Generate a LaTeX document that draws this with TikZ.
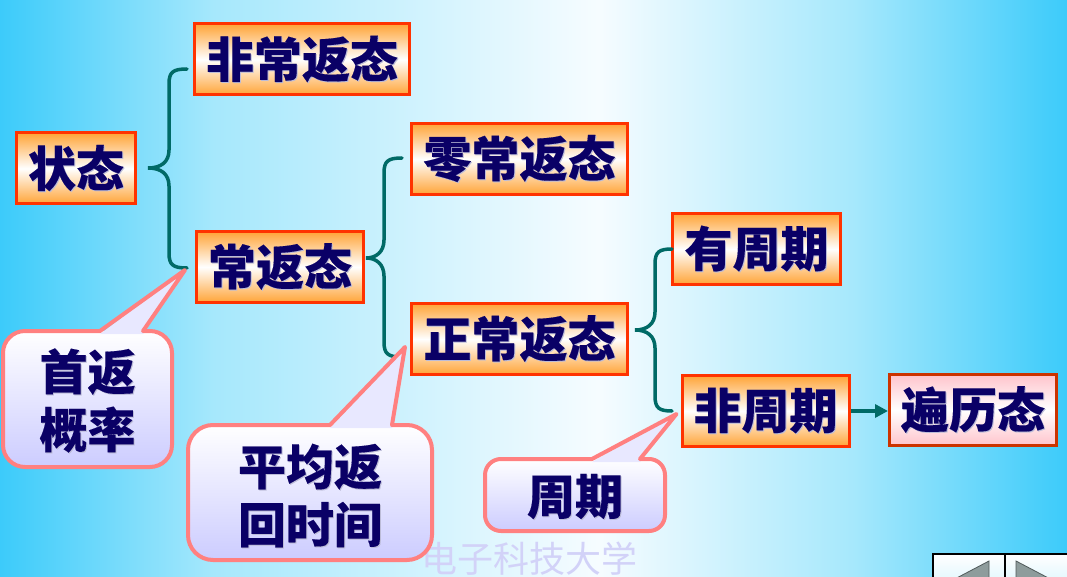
\documentclass[tikz,border=0pt]{standalone}
\usepackage{fontspec}
\newfontfamily\cjk{Noto Sans CJK SC}[BoldFeatures={FakeBold=0.25}]
\usetikzlibrary{arrows.meta,calc}

\definecolor{bgcyan}{HTML}{3CCBFA}
\definecolor{bgmid}{HTML}{A6E8FC}
\definecolor{bglight}{HTML}{F6FCFF}
\definecolor{boxedge}{HTML}{FF3300}
\definecolor{boxorange}{HTML}{FFA437}
\definecolor{ergedge}{HTML}{CC3300}
\definecolor{ergpink}{HTML}{FFC4CC}
\definecolor{bracec}{HTML}{006A66}
\definecolor{inkc}{HTML}{0A0066}
\definecolor{shadowc}{HTML}{BCBCD8}
\definecolor{calloutedge}{HTML}{FF8080}
\definecolor{calloutlav}{HTML}{CCCCFF}
\definecolor{markc}{HTML}{D2D2F8}
\definecolor{navgray}{HTML}{8E9C9C}
\definecolor{navdark}{HTML}{505A5A}
\definecolor{navcyan}{HTML}{D4F3FC}

% page background: cyan at both sides, almost white a little right of centre
\pgfdeclarehorizontalshading{pagebg}{100bp}{color(0bp)=(bgcyan); color(25bp)=(bgcyan);
  color(35bp)=(bgmid); color(53bp)=(bglight); color(65bp)=(bgmid); color(75bp)=(bgcyan); color(100bp)=(bgcyan)}

% text with a faint drop shadow
\newcommand\sh[1]{\leavevmode\rlap{\kern1pt\raisebox{-1pt}{\color{shadowc}#1}}#1}

% curly brace: tip x, tip y, stem x, end x, top y, bottom y
\newcommand\curly[6]{%
  \draw[bracestyle] (#4,#5) .. controls ({#3+4},#5) and (#3,{#5+3}) .. (#3,{#5+15})
    -- (#3,{#2-18}) .. controls (#3,{#2-6}) and ({#3-8},#2) .. (#1,#2)
    .. controls ({#3-8},#2) and (#3,{#2+6}) .. (#3,{#2+18})
    -- (#3,{#6-15}) .. controls (#3,{#6-3}) and ({#3+4},#6) .. (#4,#6);}

% speech bubble: left, top, right, bottom, corner radius, pointer base x1, x2, tip
\newcommand\speech[8]{%
  \shade[top color=white,bottom color=calloutlav,rounded corners=#5pt] (#1,#2) rectangle (#3,#4);
  \fill[calloutlav!45!white] (#6,{#2+3}) -- (#8) -- (#7,{#2+3}) -- cycle;
  \draw[calloutedge,line width=4pt,line join=round]
    (#6,#2) -- (#8) -- (#7,#2) -- ({#3-#5},#2) arc[start angle=-90,end angle=0,radius=#5]
    -- (#3,{#4-#5}) arc[start angle=0,end angle=90,radius=#5]
    -- ({#1+#5},#4) arc[start angle=90,end angle=180,radius=#5]
    -- (#1,{#2+#5}) arc[start angle=180,end angle=270,radius=#5] -- cycle;}

\begin{document}
\begin{tikzpicture}[x=1pt,y=-1pt,
  state/.style={draw=boxedge,line width=3pt,top color=boxorange,bottom color=boxorange,
    middle color=white,text=inkc,font=\cjk\bfseries\fontsize{48}{52}\selectfont,
    inner sep=0pt,minimum height=71pt},
  ergodic/.style={state,draw=ergedge,top color=ergpink,bottom color=ergpink,middle color=white},
  calltext/.style={text=inkc,font=\cjk\bfseries\fontsize{48}{58}\selectfont,align=center,inner sep=0pt},
  bracestyle/.style={draw=bracec,line width=3.5pt,line cap=round}]

\useasboundingbox (0,0) rectangle (1067,577);
\clip (0,0) rectangle (1067,577);
\shade[shading=pagebg] (0,0) rectangle (1067,577);

% watermark
\node[font=\cjk\fontsize{36}{40}\selectfont,text=markc,anchor=north,inner sep=0pt] (mark) at (529,542) {电子科技大学};

% state boxes
\node[state,minimum width=119pt] (zt)  at (76,168.5) {\sh{状态}};
\node[state,minimum width=215pt] (fcf) at (302,59.5) {\sh{非常返态}};
\node[state,minimum width=167pt] (chf) at (280,267)  {\sh{常返态}};
\node[state,minimum width=216pt] (lcf) at (519.5,159) {\sh{零常返态}};
\node[state,minimum width=216pt] (zcf) at (519.5,339) {\sh{正常返态}};
\node[state,minimum width=168pt] (yzq) at (756.5,249) {\sh{有周期}};
\node[state,minimum width=167pt] (fzq) at (765.5,411) {\sh{非周期}};
\node[ergodic,minimum width=167pt] (blt) at (973,410) {\sh{遍历态}};

% braces splitting each state into its kinds
\curly{148}{168}{169}{187}{69}{268}
\curly{366}{258}{384}{402}{158}{357}
\curly{635}{330}{655}{672}{249}{411}

% aperiodic -> ergodic
\draw[draw=bracec,line width=3.5pt,-{Triangle[length=13pt,width=13pt]}]
  (fzq.east) -- (fzq.east -| blt.west);

% speech bubbles
\coordinate (tip1) at ($(chf.west)+(-10,3)$);
\coordinate (tip2) at ($(zcf.west)+(-5,8)$);
\coordinate (tip3) at ($(fzq.west)+(-4,3)$);
\speech{3}{331}{172}{467}{22}{100}{143}{tip1}
\speech{188}{425}{432}{560}{25}{330}{392}{tip2}
\speech{485}{459}{665}{531}{16}{592}{640}{tip3}
\node[calltext] (c1) at (87.5,401) {\sh{首返}\\\sh{概率}};
\node[calltext] (c2) at (310,496) {\sh{平均返}\\\sh{回时间}};
\node[calltext] (c3) at (575,497) {\sh{周期}};

% navigation buttons
\draw[black,line width=1.2pt,top color=white,bottom color=navcyan] (933,554) rectangle (1080,595);
\draw[black,line width=1.2pt] (1005,554) -- (1005,595);
\draw[navdark,line width=0.8pt,fill=navgray] (989,561) -- (989,602) -- (950,581.5) -- cycle;
\draw[navdark,line width=0.8pt,fill=navgray] (1016,561) -- (1016,602) -- (1055,581.5) -- cycle;
\end{tikzpicture}
\end{document}
